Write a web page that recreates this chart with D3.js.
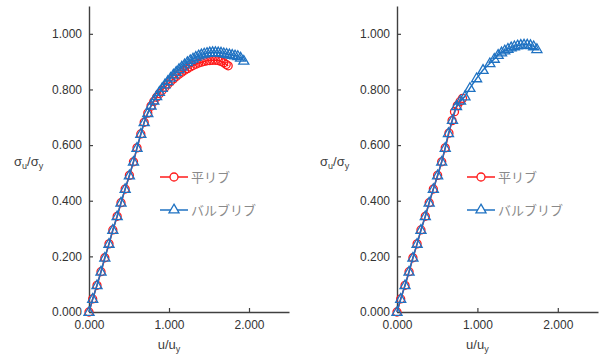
<!DOCTYPE html>
<html>
<head>
<meta charset="utf-8">
<script src="https://cdn.jsdelivr.net/npm/d3@7"></script>
<style>
  html, body { margin: 0; padding: 0; background: #fff; }
  svg { display: block; }
</style>
</head>
<body>
<svg id="chart" width="602" height="356"></svg>
<script>
// ---------- data ----------
const seriesNames = ["平リブ", "バルブリブ"];
const xTicks = [0, 1, 2];
const yTicks = [0, 0.2, 0.4, 0.6, 0.8, 1.0];

// Left panel – 平リブ (flat rib)
const leftFlatU = [0, 0.046, 0.10, 0.15, 0.198, 0.25, 0.298, 0.352, 0.40, 0.452, 0.505, 0.556, 0.60, 0.648, 0.69, 0.735, 0.775,
  0.81, 0.845, 0.88, 0.915, 0.95, 0.985, 1.02, 1.055, 1.09, 1.125, 1.16, 1.195, 1.23, 1.265, 1.30, 1.335, 1.37, 1.405,
  1.44, 1.475, 1.51, 1.545, 1.58, 1.615, 1.65, 1.685, 1.715, 1.74];
const leftFlatS = [0, 0.047, 0.096, 0.145, 0.195, 0.245, 0.295, 0.344, 0.393, 0.442, 0.491, 0.54, 0.59, 0.64, 0.682, 0.715, 0.74,
  0.757, 0.772, 0.785, 0.797, 0.808, 0.819, 0.829, 0.838, 0.847, 0.855, 0.862, 0.869, 0.875, 0.881, 0.886, 0.891, 0.895,
  0.898, 0.901, 0.903, 0.904, 0.905, 0.905, 0.904, 0.901, 0.896, 0.890, 0.885];

// Left panel – バルブリブ (bulb rib)
const leftBulbU = [0, 0.046, 0.10, 0.15, 0.198, 0.25, 0.298, 0.352, 0.40, 0.452, 0.505, 0.556, 0.60, 0.648, 0.69, 0.735, 0.775,
  0.81, 0.845, 0.88, 0.915, 0.95, 0.985, 1.02, 1.055, 1.09, 1.125, 1.16, 1.195, 1.23, 1.265, 1.30, 1.335, 1.37, 1.405,
  1.44, 1.475, 1.51, 1.545, 1.58, 1.615, 1.65, 1.685, 1.72, 1.755, 1.79, 1.825, 1.86, 1.895, 1.935];
const leftBulbS = [0, 0.047, 0.096, 0.145, 0.195, 0.245, 0.295, 0.344, 0.393, 0.442, 0.491, 0.54, 0.59, 0.64, 0.682, 0.715, 0.742,
  0.760, 0.776, 0.791, 0.805, 0.818, 0.830, 0.842, 0.853, 0.863, 0.873, 0.882, 0.890, 0.898, 0.905, 0.911, 0.917, 0.922,
  0.926, 0.929, 0.931, 0.933, 0.934, 0.934, 0.933, 0.932, 0.930, 0.928, 0.926, 0.924, 0.922, 0.920, 0.914, 0.903];

// Right panel – 平リブ
const rightFlatU = [0, 0.046, 0.10, 0.15, 0.198, 0.25, 0.298, 0.352, 0.40, 0.452, 0.505, 0.556, 0.60, 0.646, 0.685, 0.715, 0.75, 0.785, 0.815];
const rightFlatS = [0, 0.047, 0.096, 0.145, 0.195, 0.245, 0.295, 0.344, 0.393, 0.442, 0.491, 0.54, 0.59, 0.643, 0.688, 0.72, 0.742, 0.757, 0.768];

// Right panel – バルブリブ
const rightBulbU = [0, 0.046, 0.10, 0.15, 0.198, 0.25, 0.298, 0.352, 0.40, 0.452, 0.505, 0.556, 0.60, 0.64, 0.69, 0.74, 0.79,
  0.845, 0.907, 0.99, 1.07, 1.155, 1.21, 1.258, 1.30, 1.34, 1.38, 1.42, 1.46, 1.50, 1.54, 1.58, 1.62, 1.66, 1.70, 1.74];
const rightBulbS = [0, 0.047, 0.096, 0.145, 0.195, 0.245, 0.295, 0.344, 0.393, 0.442, 0.491, 0.54, 0.59, 0.643, 0.69, 0.74, 0.76,
  0.775, 0.805, 0.84, 0.87, 0.894, 0.91, 0.924, 0.933, 0.940, 0.946, 0.951, 0.955, 0.958, 0.960, 0.961, 0.961, 0.959, 0.955, 0.945];

// ---------- drawing ----------
const svg = d3.select("#chart");
const RED = "#ff1a1a", BLUE = "#1f72c2";
const FONT = "'Liberation Sans', Arial, sans-serif";

function zip(u, s) { return u.map((d, i) => ({u: d, s: s[i]})); }

function panel(opt) {
  const x = d3.scaleLinear().domain([0, 2.5]).range([opt.x0, opt.x1]);
  const y = d3.scaleLinear().domain([0, 1.1]).range([312, 6]);
  const g = svg.append("g");

  const xAxis = d3.axisBottom(x).tickValues(xTicks).tickFormat(d3.format(".3f"))
    .tickSizeInner(-4).tickSizeOuter(0).tickPadding(8);
  const yAxis = d3.axisLeft(y).tickValues(yTicks).tickFormat(d3.format(".3f"))
    .tickSizeInner(-4).tickSizeOuter(0).tickPadding(7);

  const gx = g.append("g").attr("transform", `translate(0,${y(0)})`).call(xAxis);
  const gy = g.append("g").attr("transform", `translate(${x(0)},0)`).call(yAxis);
  [gx, gy].forEach(a => {
    a.select(".domain").attr("stroke", "#404040").attr("stroke-width", 1.4);
    a.selectAll(".tick line").attr("stroke", "#404040").attr("stroke-width", 1.2);
    a.selectAll(".tick text").attr("fill", "#333").style("font-family", FONT).style("font-size", "12px");
  });

  // axis titles
  const yt = g.append("text").attr("x", opt.ytx).attr("y", 166)
    .style("font-family", FONT).style("font-size", "13px").attr("fill", "#404040");
  yt.append("tspan").text("σ");
  yt.append("tspan").text("u").attr("dy", 3).style("font-size", "9px");
  yt.append("tspan").text("/σ").attr("dy", -3);
  yt.append("tspan").text("y").attr("dy", 3).style("font-size", "9px");

  const xt = g.append("text").attr("x", x(1)).attr("y", 349).attr("text-anchor", "middle")
    .style("font-family", FONT).style("font-size", "13px").attr("fill", "#404040");
  xt.append("tspan").text("u/u");
  xt.append("tspan").text("y").attr("dy", 3).style("font-size", "9px");

  const line = d3.line().x(d => x(d.u)).y(d => y(d.s));
  const flat = zip(opt.flatU, opt.flatS);
  const bulb = zip(opt.bulbU, opt.bulbS);

  // flat rib series
  g.append("path").datum(flat).attr("d", line).attr("fill", "none").attr("stroke", RED).attr("stroke-width", 1.5);
  g.selectAll(".c").data(flat).join("circle").attr("cx", d => x(d.u)).attr("cy", d => y(d.s)).attr("r", 4)
    .attr("fill", "none").attr("stroke", RED).attr("stroke-width", 1.3);

  // bulb rib series
  const tri = d3.symbol().type(d3.symbolTriangle).size(44);
  g.append("path").datum(bulb).attr("d", line).attr("fill", "none").attr("stroke", BLUE).attr("stroke-width", 1.5);
  g.selectAll(".t").data(bulb).join("path").attr("d", tri)
    .attr("transform", d => `translate(${x(d.u)},${y(d.s) + 0.5})`)
    .attr("fill", "none").attr("stroke", BLUE).attr("stroke-width", 1.3);

  // legend
  const lg = g.append("g").attr("transform", `translate(${opt.lx},0)`);
  const items = [{name: seriesNames[0], color: RED, y: 177, m: "c"}, {name: seriesNames[1], color: BLUE, y: 210, m: "t"}];
  items.forEach(it => {
    lg.append("line").attr("x1", 0).attr("x2", 28).attr("y1", it.y).attr("y2", it.y)
      .attr("stroke", it.color).attr("stroke-width", 1.5);
    if (it.m === "c") {
      lg.append("circle").attr("cx", 14).attr("cy", it.y).attr("r", 4).attr("fill", "#fff")
        .attr("stroke", it.color).attr("stroke-width", 1.3);
    } else {
      lg.append("path").attr("d", tri).attr("transform", `translate(14,${it.y})`).attr("fill", "#fff")
        .attr("stroke", it.color).attr("stroke-width", 1.3);
    }
    lg.append("text").attr("x", 31).attr("y", it.y + 5).text(it.name)
      .style("font-family", "'Noto Sans CJK JP', sans-serif").style("font-size", "13px").attr("fill", "#8a8a8a");
  });
}

panel({x0: 89, x1: 289, ytx: 14, lx: 160, flatU: leftFlatU, flatS: leftFlatS, bulbU: leftBulbU, bulbS: leftBulbS});
panel({x0: 397, x1: 598, ytx: 320, lx: 467, flatU: rightFlatU, flatS: rightFlatS, bulbU: rightBulbU, bulbS: rightBulbS});
</script>
</body>
</html>
